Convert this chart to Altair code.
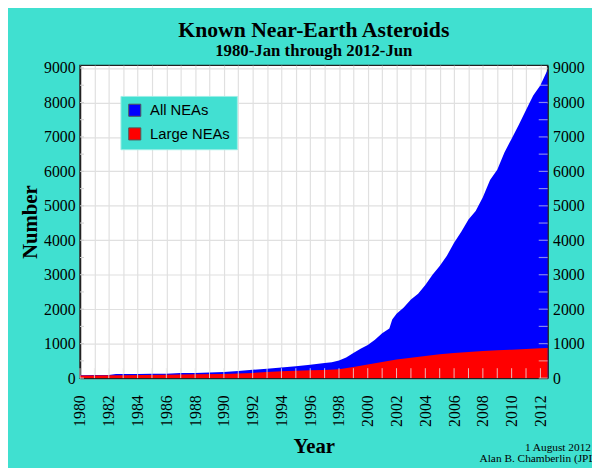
import altair as alt
import pandas as pd

# ---- data ----
ALL_YEARS = [1980.0, 1981, 1982, 1982.5, 1983, 1984, 1985, 1986, 1987, 1988, 1989, 1990,
             1991, 1992, 1993, 1994, 1995, 1996, 1997, 1997.5, 1998, 1998.5, 1999, 1999.5,
             2000, 2000.5, 2001, 2001.5, 2001.7, 2002, 2002.5, 2003, 2003.5, 2004, 2004.5,
             2005, 2005.5, 2006, 2006.5, 2007, 2007.5, 2008, 2008.5, 2009, 2009.5, 2010,
             2010.5, 2011, 2011.5, 2012, 2012.5]
ALL_COUNTS = [85, 88, 90, 115, 118, 120, 125, 128, 145, 150, 160, 175,
              205, 240, 270, 305, 345, 390, 440, 460, 510, 600, 730, 850,
              960, 1110, 1300, 1440, 1700, 1870, 2050, 2280, 2450, 2700, 3000,
              3250, 3550, 3930, 4250, 4600, 4850, 5250, 5750, 6050, 6550, 6950,
              7350, 7780, 8200, 8500, 8950]

LARGE_YEARS = [1980, 1983, 1986, 1988, 1990, 1991, 1992, 1993, 1994, 1995, 1996, 1997,
               1998, 1999, 2000, 2001, 2002, 2003, 2004, 2005, 2006, 2007, 2008, 2009,
               2010, 2011, 2012, 2012.5]
LARGE_COUNTS = [75, 85, 100, 110, 120, 135, 150, 180, 195, 210, 225, 235,
                255, 320, 395, 470, 540, 590, 640, 690, 730, 760, 785, 805,
                825, 845, 865, 875]

SERIES = ["All NEAs", "Large NEAs"]
COLORS = ["#0000FF", "#FF0000"]

TITLE = "Known Near-Earth Asteroids"
SUBTITLE = "1980-Jan through 2012-Jun"
X_TITLE = "Year"
Y_TITLE = "Number"
NOTE_1 = "1 August 2012"
NOTE_2 = "Alan B. Chamberlin (JPL)"

YEAR_TICKS = list(range(1980, 2013))
COUNT_LABELS = list(range(0, 9001, 1000))
COUNT_TICKS = list(range(0, 9001, 500))

# ---- tables ----
df = pd.concat([
    pd.DataFrame({"year": ALL_YEARS, "count": ALL_COUNTS, "series": SERIES[0]}),
    pd.DataFrame({"year": LARGE_YEARS, "count": LARGE_COUNTS, "series": SERIES[1]}),
], ignore_index=True)
year_ticks = pd.DataFrame({"year": YEAR_TICKS})
count_ticks = pd.DataFrame({"count": COUNT_TICKS})

W, H = 474, 317
SERIF = "Liberation Serif"
SANS = "Liberation Sans"

x_scale = alt.Scale(domain=[1980, 2012.5], nice=False, zero=False)
y_scale = alt.Scale(domain=[0, 9077], nice=False)

x_axis = alt.Axis(values=YEAR_TICKS, format="d",
                  labelExpr="datum.value % 2 == 0 ? datum.label : ''",
                  labelAngle=270, labelPadding=17, labelOverlap=False,
                  labelFont=SERIF, labelFontSize=16, labelColor="black",
                  titleFont=SERIF, titleFontSize=21, titleFontWeight="bold",
                  titleColor="black", titlePadding=9,
                  ticks=False, grid=True, gridColor="#e0e0e0", gridWidth=1.2,
                  domainColor="#222222", domainWidth=1.5)

areas = alt.Chart(df).mark_area(interpolate="linear").encode(
    x=alt.X("year:Q", scale=x_scale, title=X_TITLE, axis=x_axis),
    y=alt.Y("count:Q", scale=y_scale, stack=None, title=Y_TITLE,
            axis=alt.Axis(values=COUNT_LABELS, format="d", orient="left",
                          labelFont=SERIF, labelFontSize=16, labelColor="black",
                          labelPadding=5, ticks=False,
                          titleFont=SERIF, titleFontSize=21, titleFontWeight="bold",
                          titleColor="black", titlePadding=3,
                          grid=True, gridColor="#e0e0e0", gridWidth=1.2,
                          domainColor="#222222", domainWidth=1.5)),
    color=alt.Color("series:N",
                    scale=alt.Scale(domain=SERIES, range=COLORS),
                    legend=alt.Legend(title=None, orient="none", legendX=41, legendY=31,
                                      fillColor="#42e0d2", strokeColor="#9beee6",
                                      padding=7, rowPadding=7,
                                      symbolType="square", symbolSize=150,
                                      symbolStrokeColor="#555555", symbolStrokeWidth=1,
                                      symbolOpacity=1,
                                      labelFont=SANS, labelFontSize=15, labelColor="black",
                                      labelOffset=8)),
    order=alt.Order("series:N"),
)

bottom_ticks = alt.Chart(year_ticks).mark_rule(color="#e8e8e8", opacity=0.8, strokeWidth=1).encode(
    x=alt.X("year:Q", scale=x_scale, title=X_TITLE, axis=x_axis),
    y=alt.value(H - 10), y2=alt.value(H),
)

left_ticks = alt.Chart(count_ticks).mark_rule(color="#cfcfcf", strokeWidth=1).encode(
    y=alt.Y("count:Q", scale=y_scale, axis=None),
    x=alt.value(0), x2=alt.value(4),
)

right_ticks = alt.Chart(count_ticks).mark_rule(color="#e0e0e0", opacity=0.6, strokeWidth=1.2).encode(
    y=alt.Y("count:Q", scale=y_scale, title=None,
            axis=alt.Axis(values=COUNT_LABELS, format="d", orient="right",
                          labelFont=SERIF, labelFontSize=16, labelColor="black",
                          labelPadding=5, ticks=False, grid=False,
                          domainColor="#222222", domainWidth=1.5)),
    x=alt.value(W - 9), x2=alt.value(W),
)

note_df = pd.DataFrame({"a": [NOTE_1], "b": [NOTE_2]})
note1 = alt.Chart(note_df).mark_text(font=SERIF, fontSize=11.5, align="left",
                                     baseline="alphabetic", color="black").encode(
    text="a:N", x=alt.value(451), y=alt.value(H + 74))
note2 = alt.Chart(note_df).mark_text(font=SERIF, fontSize=11.5, align="left",
                                     baseline="alphabetic", color="black").encode(
    text="b:N", x=alt.value(405), y=alt.value(H + 85))

chart = alt.layer(areas, bottom_ticks, left_ticks, right_ticks, note1, note2).resolve_axis(
    y="independent"
).properties(
    width=W, height=H,
    autosize=alt.AutoSizeParams(type="none"),
    padding={"left": 73, "top": 55, "right": 45, "bottom": 88},
    background="#40E0D0",
    title=alt.TitleParams(text=TITLE, subtitle=SUBTITLE, anchor="middle",
                          font=SERIF, fontSize=22, fontWeight="bold", color="black",
                          subtitleFont=SERIF, subtitleFontSize=17, subtitleFontWeight="bold",
                          subtitleColor="black", subtitlePadding=1, offset=0),
).configure_view(fill="white", stroke="#222222", strokeWidth=1.5)

chart.save("out.html", embed_options={"renderer": "svg", "actions": False})
